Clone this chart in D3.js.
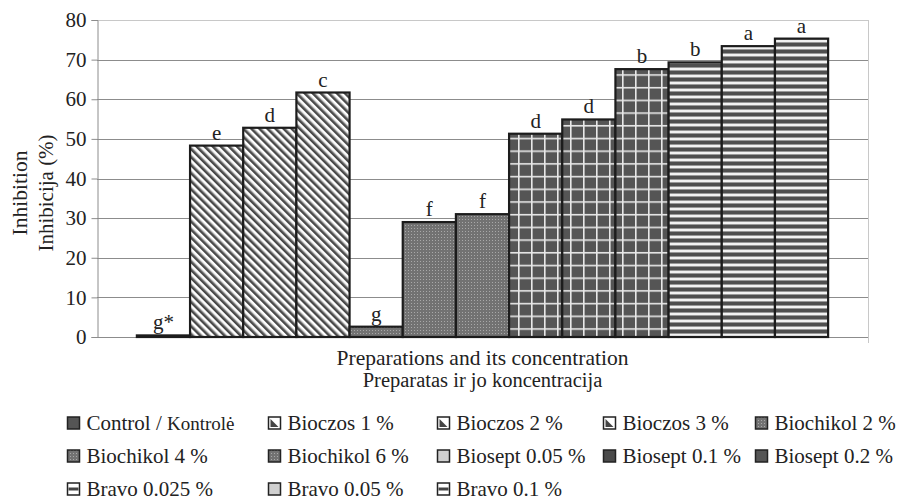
<!DOCTYPE html>
<html>
<head>
<meta charset="utf-8">
<script src="https://cdn.jsdelivr.net/npm/d3@7"></script>
<style>
  body { margin: 0; background: #fff; }
</style>
</head>
<body>
<script>
// data
var series = [
  "Control / Kontrolė", "Bioczos 1 %", "Bioczos 2 %", "Bioczos 3 %",
  "Biochikol 2 %", "Biochikol 4 %", "Biochikol 6 %",
  "Biosept 0.05 %", "Biosept 0.1 %", "Biosept 0.2 %",
  "Bravo 0.025 %", "Bravo 0.05 %", "Bravo 0.1 %"
];
var values = [0.4, 48.3, 52.8, 61.7, 2.6, 29.0, 31.0, 51.3, 54.9, 67.6, 69.3, 73.4, 75.3];
var letters = ["g*", "e", "d", "c", "g", "f", "f", "d", "d", "b", "b", "a", "a"];
var fills = ["solid", "diag", "diag", "diag", "dots", "dots", "dots", "grid", "grid", "grid", "hstripe", "hstripe", "hstripe"];
var swatches = ["solid", "diagbox", "diagbox", "diagbox", "dots", "dots", "dots", "light", "darkbox", "solid", "hbox", "light", "hbox"];
var yTicks = [0, 10, 20, 30, 40, 50, 60, 70, 80];

var FONT = "'Liberation Serif'";
var width = 899;
var height = 500;
var margin = { left: 97, right: 31, top: 20, bottom: 163 };

var svg = d3
  .select("body")
  .append("svg")
  .attr("width", width)
  .attr("height", height);

var defs = svg.append("defs");

var diag = defs
  .append("pattern")
  .attr("id", "diag")
  .attr("patternUnits", "userSpaceOnUse")
  .attr("width", 5.7)
  .attr("height", 10)
  .attr("patternTransform", "rotate(-45)");
diag.append("rect").attr("width", 5.7).attr("height", 10).attr("fill", "#fff");
diag.append("rect").attr("width", 2.6).attr("height", 10).attr("fill", "#4a4a4a");
diag.append("rect").attr("x", 2.6).attr("width", 0.6).attr("height", 10).attr("fill", "#999");

var dots = defs
  .append("pattern")
  .attr("id", "dots")
  .attr("patternUnits", "userSpaceOnUse")
  .attr("width", 3)
  .attr("height", 3);
dots.append("rect").attr("width", 3).attr("height", 3).attr("fill", "#727272");
dots.append("rect").attr("width", 1).attr("height", 1).attr("fill", "#a8a8a8");

var grid = defs
  .append("pattern")
  .attr("id", "grid")
  .attr("patternUnits", "userSpaceOnUse")
  .attr("width", 13)
  .attr("height", 12.7);
grid.append("rect").attr("width", 13).attr("height", 12.7).attr("fill", "#555");
grid.append("rect").attr("x", 11).attr("width", 1.6).attr("height", 12.7).attr("fill", "#e8e8e8");
grid.append("rect").attr("y", 10.7).attr("width", 13).attr("height", 1.6).attr("fill", "#e8e8e8");

var hs = defs
  .append("pattern")
  .attr("id", "hstripe")
  .attr("patternUnits", "userSpaceOnUse")
  .attr("width", 10)
  .attr("height", 7);
hs.append("rect").attr("width", 10).attr("height", 7).attr("fill", "#f2f2f2");
hs.append("rect").attr("y", 0).attr("width", 10).attr("height", 1).attr("fill", "#999");
hs.append("rect").attr("y", 1).attr("width", 10).attr("height", 3).attr("fill", "#4f4f4f");
hs.append("rect").attr("y", 4).attr("width", 10).attr("height", 1).attr("fill", "#999");

var fillOf = function(key) {
  if (key === "solid") return "#555";
  if (key === "light") return "#d0d0d0";
  if (key === "darkbox") return "#4a4a4a";
  if (key === "diagbox" || key === "hbox") return "#fff";
  return "url(#" + key + ")";
};

var y = d3
  .scaleLinear()
  .domain([0, 80])
  .range([height - margin.bottom, margin.top]);

var x = d3
  .scaleBand()
  .domain(series)
  .range([margin.left, width - margin.right])
  .paddingInner(0)
  .paddingOuter(0.75);

var plotRight = width - margin.right;

// frame and gridlines
svg
  .append("g")
  .selectAll("line")
  .data(yTicks)
  .enter()
  .append("line")
  .attr("x1", margin.left)
  .attr("x2", plotRight)
  .attr("y1", function(d) { return Math.round(y(d)) + 0.5; })
  .attr("y2", function(d) { return Math.round(y(d)) + 0.5; })
  .attr("stroke", function(d) { return d === 80 ? "#c8c8c8" : "#8c8c8c"; })
  .attr("stroke-width", 1);

svg
  .append("line")
  .attr("x1", plotRight + 0.5)
  .attr("x2", plotRight + 0.5)
  .attr("y1", y(80))
  .attr("y2", y(0) + 6)
  .attr("stroke", "#c8c8c8");

var yAxis = d3
  .axisLeft(y)
  .tickValues(yTicks)
  .tickSize(6)
  .tickPadding(5);

var yG = svg
  .append("g")
  .attr("transform", "translate(" + (margin.left + 0.5) + ",0)")
  .call(yAxis);
yG.attr("font-family", null).attr("font-size", null);
yG.select(".domain").attr("stroke", "#8c8c8c");
yG.selectAll(".tick line").attr("stroke", "#8c8c8c");
yG.selectAll(".tick text")
  .style("font-family", FONT)
  .style("font-size", "21px")
  .attr("fill", "#222");

// bars
var bars = svg
  .append("g")
  .selectAll("g")
  .data(series)
  .enter()
  .append("g");

bars
  .append("rect")
  .attr("x", function(d) { return x(d); })
  .attr("y", function(d, i) { return y(values[i]); })
  .attr("width", x.bandwidth())
  .attr("height", function(d, i) { return y(0) - y(values[i]); })
  .attr("fill", function(d, i) { return fillOf(fills[i]); })
  .attr("stroke", "#1c1c1c")
  .attr("stroke-width", 2.2);

bars
  .append("text")
  .attr("x", function(d) { return x(d) + x.bandwidth() / 2; })
  .attr("y", function(d, i) { return y(values[i]) - 6; })
  .attr("text-anchor", "middle")
  .style("font-family", FONT)
  .style("font-size", "21px")
  .attr("fill", "#222")
  .text(function(d, i) { return letters[i]; });

// axis titles
var midX = (margin.left + plotRight) / 2;
svg
  .append("text")
  .attr("x", midX)
  .attr("y", 365)
  .attr("text-anchor", "middle")
  .style("font-family", FONT)
  .style("font-size", "21.5px")
  .attr("fill", "#222")
  .text("Preparations and its concentration");
svg
  .append("text")
  .attr("x", midX)
  .attr("y", 387)
  .attr("text-anchor", "middle")
  .style("font-family", FONT)
  .style("font-size", "20.5px")
  .attr("fill", "#222")
  .text("Preparatas ir jo koncentracija");

svg
  .append("text")
  .attr("transform", "translate(27,193) rotate(-90)")
  .attr("text-anchor", "middle")
  .style("font-family", FONT)
  .style("font-size", "21.5px")
  .attr("fill", "#222")
  .text("Inhibition");
svg
  .append("text")
  .attr("transform", "translate(53,193) rotate(-90)")
  .attr("text-anchor", "middle")
  .style("font-family", FONT)
  .style("font-size", "21px")
  .attr("fill", "#222")
  .text("Inhibicija (%)");

// legend
const LEGEND_COLS = [67, 268, 437, 603, 755];
const LEGEND_ROWS = [423, 456, 489];
const LEGEND_BOX = 12;

var legendItem = svg
  .append("g")
  .selectAll("g")
  .data(series)
  .enter()
  .append("g")
  .attr("transform", function(d, i) {
    return "translate(" + LEGEND_COLS[i % 5] + "," + LEGEND_ROWS[Math.floor(i / 5)] + ")";
  });

legendItem
  .append("rect")
  .attr("x", 0.5)
  .attr("y", -LEGEND_BOX / 2)
  .attr("width", LEGEND_BOX)
  .attr("height", LEGEND_BOX)
  .attr("fill", function(d, i) { return fillOf(swatches[i]); })
  .attr("stroke", "#222")
  .attr("stroke-width", 1.5);

legendItem
  .filter(function(d, i) { return swatches[i] === "diagbox"; })
  .append("path")
  .attr("d", "M2.5,-4 L10.5,4 L2.5,4 Z")
  .attr("fill", "#444");

legendItem
  .filter(function(d, i) { return swatches[i] === "hbox"; })
  .append("rect")
  .attr("x", 1.5)
  .attr("y", -1.5)
  .attr("width", 10)
  .attr("height", 3)
  .attr("fill", "#444");

legendItem
  .append("text")
  .attr("x", LEGEND_BOX + 7.5)
  .attr("y", 0)
  .attr("dy", "0.33em")
  .style("font-family", FONT)
  .style("font-size", "21px")
  .attr("fill", "#222")
  .each(function(d) {
    var t = d3.select(this);
    if (d.indexOf(" / ") > 0) {
      var parts = d.split(" / ");
      t.append("tspan").text(parts[0] + " / ");
      t.append("tspan").style("font-size", "19px").text(parts[1]);
    } else {
      t.text(d);
    }
  });
</script>
</body>
</html>
